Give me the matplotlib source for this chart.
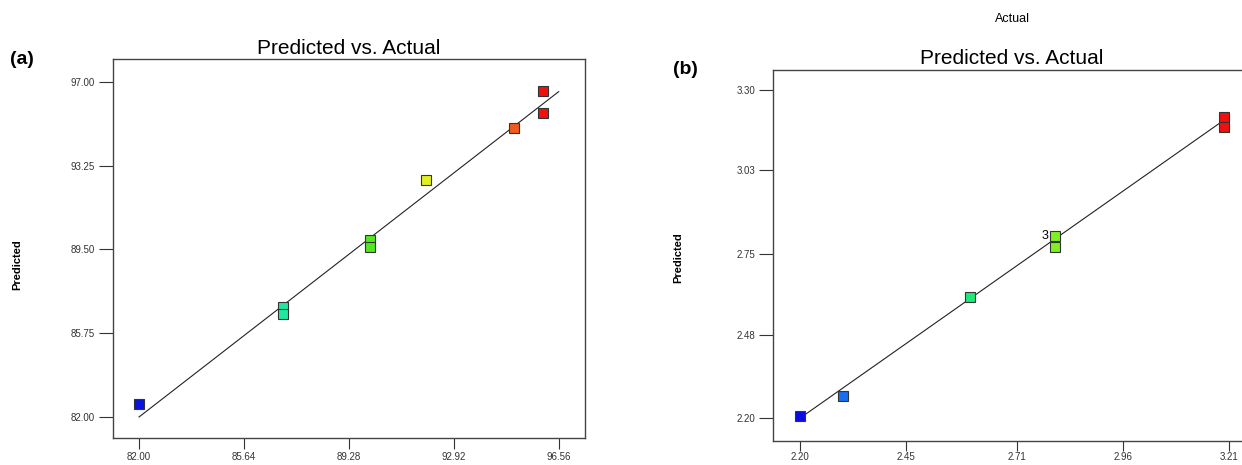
import matplotlib.pyplot as plt

# panel (a)
actual_a = [82.00, 87.00, 87.00, 90.00, 90.00, 91.97, 95.00, 96.00, 96.00]
pred_a = [82.58, 86.90, 86.61, 89.90, 89.62, 92.62, 94.95, 96.61, 95.62]
col_a = ['#0a14e0', '#20e8a0', '#20e8a0', '#50e81e', '#50e81e', '#e0f020', '#f05a1e', '#f01010', '#f01010']
xt_a = [82.00, 85.64, 89.28, 92.92, 96.56]
yt_a = [82.00, 85.75, 89.50, 93.25, 97.00]

# panel (b)
actual_b = [2.20, 2.30, 2.60, 2.80, 2.80, 3.20, 3.20]
pred_b = [2.207, 2.275, 2.607, 2.810, 2.774, 3.209, 3.176]
col_b = ['#0a0ae6', '#1a6ef0', '#20e878', '#80f020', '#80f020', '#f01010', '#f01010']
xt_b = [2.20, 2.45, 2.71, 2.96, 3.21]
yt_b = [2.20, 2.48, 2.75, 3.03, 3.30]

narrow = ['Liberation Sans Narrow', 'Liberation Sans', 'DejaVu Sans']
arial = ['Liberation Sans', 'DejaVu Sans']

fig = plt.figure(figsize=(12.42, 4.65), dpi=100)
ax1 = fig.add_axes([0.0906, 0.0581, 0.3808, 0.814])
ax2 = fig.add_axes([0.6224, 0.0516, 0.384, 0.798])


def draw(ax, xs, ys, cols, xt, yt, lo, hi):
    ax.plot([lo, hi], [lo, hi], color='#222222', lw=0.8, zorder=1)
    for x, y, c in zip(xs, ys, cols):
        ax.plot(x, y, marker='s', ms=7, color=c, mec='#333333', mew=0.8, ls='none', zorder=2)
    ax.set_xticks(xt)
    ax.set_yticks(yt)
    ax.set_xticklabels(['%.2f' % v for v in xt], fontsize=7, color='#333333', family=narrow)
    ax.set_yticklabels(['%.2f' % v for v in yt], fontsize=7, color='#333333', family=narrow)
    ax.tick_params(length=10, width=0.8, color='#333333', pad=3)
    for s in ax.spines.values():
        s.set_color('#444444')
        s.set_linewidth(1)
    ax.set_title('Predicted vs. Actual', fontsize=15, family=narrow, pad=4)


draw(ax1, actual_a, pred_a, col_a, xt_a, yt_a, 82.0, 96.56)
ax1.set_xlim(81.08, 97.49)
ax1.set_ylim(81.06, 98.0)
ax1.tick_params(axis='x', length=8, pad=2)

draw(ax2, actual_b, pred_b, col_b, xt_b, yt_b, 2.20, 3.21)
ax2.set_xlim(2.136, 3.26)
ax2.set_ylim(2.123, 3.367)
ax2.tick_params(axis='x', length=7, pad=1)
ax2.text(actual_b[3] - 0.015, pred_b[3], '3', fontsize=9, ha='right', va='center', family=narrow)

fig.text(17 / 1242, 1 - 265 / 465, 'Predicted', rotation=90, fontsize=8, fontweight='bold', ha='center', va='center', family=arial)
fig.text(678 / 1242, 1 - 258 / 465, 'Predicted', rotation=90, fontsize=8, fontweight='bold', ha='center', va='center', family=arial)
fig.text(1012 / 1242, 1 - 19 / 465, 'Actual', fontsize=9, ha='center', va='center', family=narrow)
fig.text(22 / 1242, 1 - 60 / 465, '(a)', fontsize=14, fontweight='bold', ha='center', va='center', family=narrow)
fig.text(685 / 1242, 1 - 70 / 465, '(b)', fontsize=14, fontweight='bold', ha='center', va='center', family=narrow)

fig.savefig('out.png', dpi=100)
